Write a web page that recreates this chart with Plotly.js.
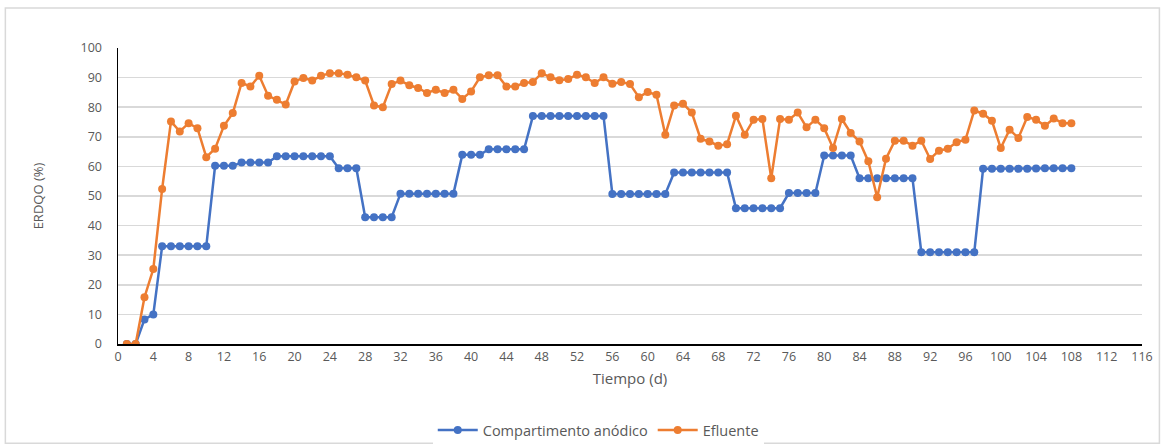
<!DOCTYPE html>
<html>
<head>
<meta charset="utf-8">
<script src="https://cdn.plot.ly/plotly-3.0.1.min.js"></script>
<style>html,body{margin:0;padding:0;background:#fff;}#chart{width:1169px;height:444px;}</style>
</head>
<body>
<div id="chart"></div>
<script>
const days = [];
for (let d = 1; d <= 108; d++) days.push(d);

const anodico = [
  0, 0, 8.3, 10, 33, 33, 33, 33, 33, 33,
  60.2, 60.2, 60.2, 61.3, 61.3, 61.3, 61.3, 63.4, 63.4, 63.4,
  63.4, 63.4, 63.4, 63.4, 59.4, 59.4, 59.4, 42.8, 42.8, 42.8,
  42.8, 50.8, 50.8, 50.8, 50.8, 50.8, 50.8, 50.8, 63.9, 63.9,
  63.9, 65.8, 65.8, 65.8, 65.8, 65.8, 77, 77, 77, 77,
  77, 77, 77, 77, 77, 50.7, 50.7, 50.7, 50.7, 50.7,
  50.7, 50.7, 57.9, 57.9, 57.9, 57.9, 57.9, 57.9, 57.9, 45.9,
  45.9, 45.9, 45.9, 45.9, 45.9, 51, 51, 51, 51, 63.7,
  63.7, 63.7, 63.7, 56, 56, 56, 56, 56, 56, 56,
  31, 31, 31, 31, 31, 31, 31, 59.2, 59.2, 59.2,
  59.2, 59.2, 59.2, 59.3, 59.4, 59.4, 59.4, 59.4
];

const efluente = [
  0, 0, 15.8, 25.3, 52.4, 75.2, 71.8, 74.6, 72.9, 63.1,
  66, 73.7, 78, 88.2, 87, 90.6, 83.9, 82.5, 80.9, 88.7,
  89.9, 89, 90.6, 91.5, 91.5, 91, 90.1, 89, 80.6, 80,
  87.8, 89, 87.4, 86.5, 84.8, 85.9, 84.8, 85.9, 82.8, 85.3,
  90.1, 90.8, 90.8, 87, 87, 88.2, 88.5, 91.5, 90.1, 89.1,
  89.5, 91, 90.1, 88.2, 90.1, 87.9, 88.5, 87.8, 83.4, 85.1,
  84.2, 70.7, 80.6, 81.2, 78.2, 69.3, 68.4, 67, 67.5, 77.1,
  70.7, 75.8, 76, 56, 76, 75.8, 78.2, 73.2, 75.8, 72.9,
  66.2, 76, 71.3, 68.4, 61.7, 49.6, 62.6, 68.7, 68.7, 67,
  68.7, 62.5, 65.3, 66, 68.2, 69, 78.9, 77.8, 75.4, 66.2,
  72.4, 69.6, 76.7, 75.8, 73.7, 76.2, 74.6, 74.6
];

const seriesNames = ["Compartimento anódico", "Efluente"];
const xTickVals = [];
for (let t = 0; t <= 116; t += 4) xTickVals.push(t);

const font = "'Open Sans', sans-serif";

const traces = [
  {
    x: days, y: anodico, name: seriesNames[0], type: "scatter", mode: "lines+markers",
    line: {color: "#4472C4", width: 2.5},
    marker: {color: "#4472C4", size: 8}
  },
  {
    x: days, y: efluente, name: seriesNames[1], type: "scatter", mode: "lines+markers",
    line: {color: "#ED7D31", width: 2.5},
    marker: {color: "#ED7D31", size: 8}
  }
];

const layout = {
  width: 1169, height: 444,
  margin: {l: 118, r: 27, t: 48, b: 100},
  paper_bgcolor: "#ffffff", plot_bgcolor: "#ffffff",
  font: {family: font, size: 13, color: "#595959"},
  showlegend: true,
  legend: {orientation: "h", x: 0.469, xanchor: "center", xref: "paper",
           y: 0.0315, yanchor: "middle", yref: "container",
           font: {family: font, size: 14.5, color: "#595959"}, itemwidth: 40, tracegroupgap: 0},
  xaxis: {
    range: [0, 116], tickvals: xTickVals, showgrid: false, zeroline: false,
    showline: true, linecolor: "#000000", linewidth: 1.5,
    ticks: "", tickfont: {family: font, size: 12.5, color: "#595959"},
    title: {text: "Tiempo (d)", font: {family: font, size: 15, color: "#595959"}, standoff: 10},
    fixedrange: true
  },
  yaxis: {
    range: [0, 100], dtick: 10, tick0: 0, showgrid: true, gridcolor: "#d9d9d9", gridwidth: 1.5,
    zeroline: false, showline: true, linecolor: "#000000", linewidth: 1.5,
    ticks: "", ticklabelstandoff: 12, tickfont: {family: font, size: 12.5, color: "#595959"},
    title: {text: "ERDQO (%)", font: {family: font, size: 13, color: "#595959"}, standoff: 34},
    fixedrange: true
  },
  shapes: [
    {type: "rect", xref: "paper", yref: "paper", x0: -0.11, x1: 1.017, y0: -0.335, y1: 1.135,
     line: {color: "#d9d9d9", width: 1.5}, fillcolor: "rgba(0,0,0,0)", layer: "below"}
  ]
};

Plotly.newPlot("chart", traces, layout, {displayModeBar: false, staticPlot: true});
</script>
</body>
</html>
